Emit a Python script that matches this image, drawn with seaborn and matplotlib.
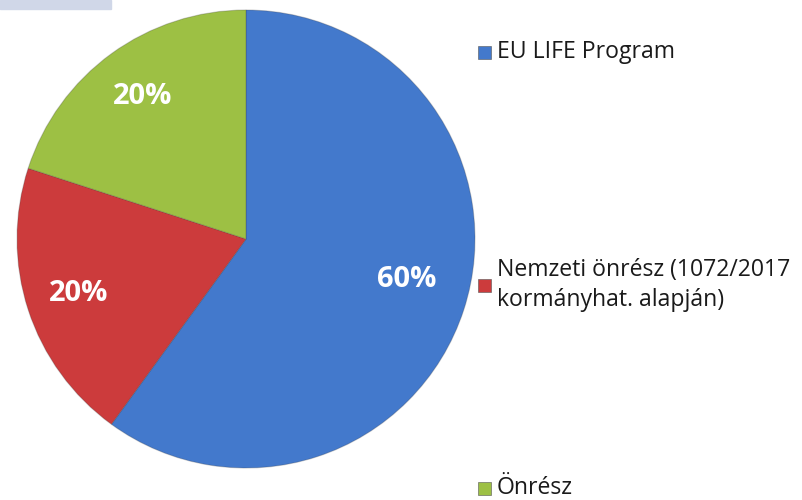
import matplotlib
matplotlib.use("Agg")
import matplotlib.pyplot as plt
from matplotlib.patches import Rectangle
import seaborn as sns

sns.set_theme(style="white")
plt.rcParams['font.family'] = ['Open Sans', 'DejaVu Sans']

# data
labels = ["EU LIFE Program",
          "Nemzeti önrész (1072/2017\nkormányhat. alapján)",
          "Önrész"]
shares = [60, 20, 20]
colors = ["#4379CC", "#CC3B3C", "#9DC044"]

fig = plt.figure(figsize=(8.03, 5.00), dpi=100)
fig.patch.set_facecolor("white")

# small tab in the top-left corner
fig.patches.append(Rectangle((0, 1 - 9 / 500), 111 / 803, 9 / 500,
                             transform=fig.transFigure, color="#D0D7E8", zorder=0))

ax = fig.add_axes([17 / 803, 32 / 500, 458 / 803, 458 / 500])
wedges, texts, autotexts = ax.pie(
    shares, colors=colors, startangle=90, counterclock=False,
    autopct="%d%%", pctdistance=0.77, radius=1.0,
    wedgeprops=dict(linewidth=0.8, edgecolor="#3a3a3a40"),
    textprops=dict(color="white", fontsize=21, fontweight="bold"))
ax.set_xlim(-1.0, 1.0)
ax.set_ylim(-1.0, 1.0)
ax.set_aspect("equal")
ax.axis("off")

# nudge the 60% label like in the original
autotexts[0].set_position((0.70, -0.175))

# legend entries, placed down the right side
legend_y = [52, 285, 488]
for lab, col, y in zip(labels, colors, legend_y):
    yf = 1 - y / 500
    fig.patches.append(Rectangle((478 / 803, yf - 7 / 500), 13 / 803, 13 / 500,
                                 transform=fig.transFigure, facecolor=col,
                                 edgecolor="#555555", linewidth=0.4))
    fig.text(497 / 803, yf, lab, fontsize=16.6, color="#1a1a1a",
             va="center", ha="left", linespacing=1.3)

fig.savefig("out.png", dpi=100)
